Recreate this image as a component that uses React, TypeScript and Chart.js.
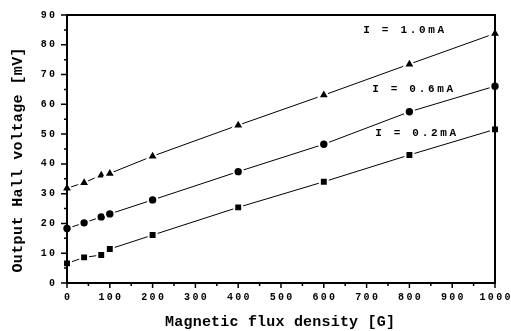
import { useEffect, useRef } from "react";
import { Chart, registerables } from "chart.js";

Chart.register(...registerables);

// Magnetic flux density [G] at which the Hall voltage was measured
const fluxDensity = [0, 40, 80, 100, 200, 400, 600, 800, 1000];
// Output Hall voltage [mV] per drive current
const hall10mA = [31.8, 33.7, 36.2, 36.8, 42.6, 53.0, 63.1, 73.5, 83.8];
const hall06mA = [18.3, 20.2, 22.2, 23.2, 27.9, 37.4, 46.6, 57.5, 66.1];
const hall02mA = [6.6, 8.6, 9.4, 11.4, 16.1, 25.4, 34.0, 43.0, 51.6];

const seriesNames = ["I = 1.0mA", "I = 0.6mA", "I = 0.2mA"];
// label anchors in data units (G, mV)
const seriesLabelX = [692, 713, 720];
const seriesLabelY = [85, 65.1, 50.2];

const xTickLabels = [0, 100, 200, 300, 400, 500, 600, 700, 800, 900, 1000];
const yTickLabels = [0, 10, 20, 30, 40, 50, 60, 70, 80, 90];

const xTitle = "Magnetic flux density [G]";
const yTitle = "Output Hall voltage [mV]";

const MONO = "'Liberation Mono', 'DejaVu Sans Mono', monospace";

function drawSpaced(
  ctx: CanvasRenderingContext2D,
  text: string,
  x: number,
  y: number,
  spacing: number,
  align: "left" | "center" | "right"
) {
  (ctx as any).letterSpacing = spacing + "px";
  const w = ctx.measureText(text).width - spacing;
  let sx = x;
  if (align === "center") sx = x - w / 2;
  if (align === "right") sx = x - w;
  ctx.textAlign = "left";
  ctx.fillText(text, sx, y);
  (ctx as any).letterSpacing = "0px";
}

const framePlugin = {
  id: "hallFrame",
  afterDatasetsDraw(chart: any) {
    const { ctx, chartArea } = chart;
    const { left, right, top, bottom } = chartArea;
    const xs = chart.scales.x;
    const ys = chart.scales.y;
    ctx.save();
    ctx.strokeStyle = "#000";
    ctx.fillStyle = "#000";

    // plot frame
    ctx.lineWidth = 2;
    ctx.strokeRect(left, top, right - left, bottom - top);

    // tick marks
    ctx.lineWidth = 1.5;
    ctx.beginPath();
    for (let v = 0; v <= 90; v += 5) {
      const py = ys.getPixelForValue(v);
      const len = v % 10 === 0 ? 6 : 3;
      ctx.moveTo(left - len, py);
      ctx.lineTo(left, py);
    }
    for (let v = 0; v <= 1000; v += 50) {
      const px = xs.getPixelForValue(v);
      const len = v % 100 === 0 ? 5 : 3;
      ctx.moveTo(px, bottom);
      ctx.lineTo(px, bottom + len);
    }
    ctx.stroke();

    // tick labels
    ctx.font = `bold 10px ${MONO}`;
    ctx.textBaseline = "middle";
    yTickLabels.forEach((v) => {
      drawSpaced(ctx, String(v), left - 12, ys.getPixelForValue(v), 2.3, "right");
    });
    xTickLabels.forEach((v) => {
      drawSpaced(ctx, String(v), xs.getPixelForValue(v), bottom + 14, 2.3, "center");
    });

    // series labels
    ctx.font = `bold 11px ${MONO}`;
    seriesNames.forEach((name, i) => {
      drawSpaced(
        ctx,
        name,
        xs.getPixelForValue(seriesLabelX[i]),
        ys.getPixelForValue(seriesLabelY[i]),
        2.7,
        "left"
      );
    });

    // axis titles
    ctx.font = `bold 15px ${MONO}`;
    drawSpaced(ctx, xTitle, 280, 322, 0.2, "center");
    ctx.translate(18, 160);
    ctx.rotate(-Math.PI / 2);
    drawSpaced(ctx, yTitle, 0, 0, 0.4, "center");
    ctx.restore();
  },
};

export default function App() {
  const canvasRef = useRef<HTMLCanvasElement | null>(null);

  useEffect(() => {
    const canvas = canvasRef.current;
    if (!canvas) return;
    const mk = (values: number[]) => values.map((v, i) => ({ x: fluxDensity[i], y: v }));
    const common = {
      borderColor: "#000",
      borderWidth: 1,
      pointBackgroundColor: "#000",
      pointBorderColor: "#fff",
      pointBorderWidth: 2,
      tension: 0,
      fill: false,
      clip: false as any,
    };
    const chart = new Chart(canvas, {
      type: "line",
      data: {
        datasets: [
          { ...common, label: seriesNames[0], data: mk(hall10mA), pointStyle: "triangle", pointRadius: 6.5 },
          { ...common, label: seriesNames[1], data: mk(hall06mA), pointStyle: "circle", pointRadius: 4.7 },
          { ...common, label: seriesNames[2], data: mk(hall02mA), pointStyle: "rect", pointRadius: 5.6 },
        ],
      },
      options: {
        responsive: false,
        animation: false,
        devicePixelRatio: 1,
        layout: { padding: { left: 0, right: 16, top: 15, bottom: 0 } },
        plugins: { legend: { display: false }, tooltip: { enabled: false } },
        events: [],
        scales: {
          x: {
            type: "linear",
            min: 0,
            max: 1000,
            ticks: { display: false },
            grid: { display: false },
            border: { display: false },
            afterFit: (s: any) => {
              s.height = 48;
            },
          },
          y: {
            type: "linear",
            min: 0,
            max: 90,
            ticks: { display: false },
            grid: { display: false },
            border: { display: false },
            afterFit: (s: any) => {
              s.width = 67;
            },
          },
        },
      },
      plugins: [framePlugin],
    });
    return () => chart.destroy();
  }, []);

  return (
    <div style={{ position: "absolute", left: 0, top: 0, width: 511, height: 331, background: "#fff" }}>
      <canvas ref={canvasRef} width={511} height={331} />
    </div>
  );
}
